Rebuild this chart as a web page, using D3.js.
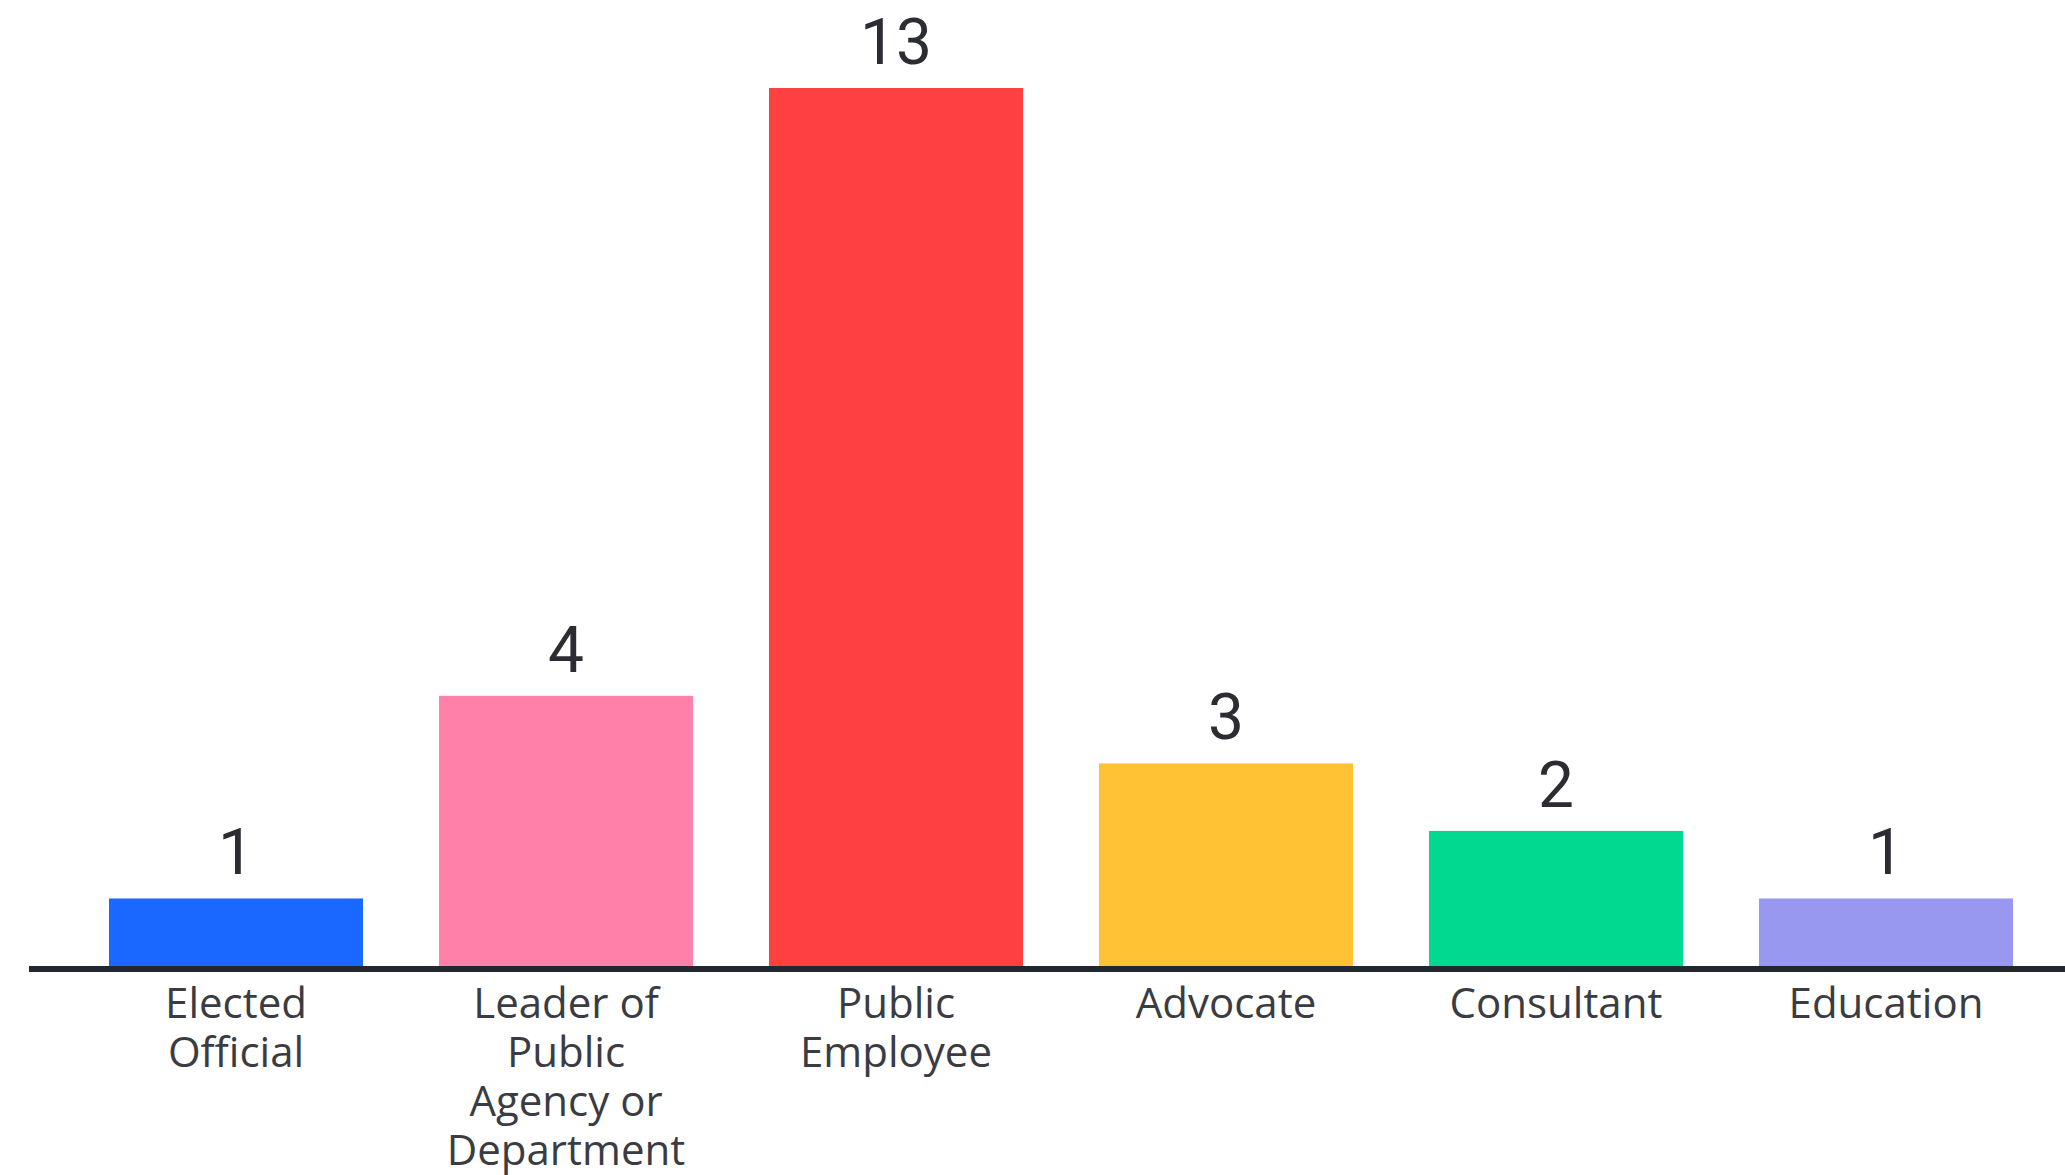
<!DOCTYPE html>
<meta charset="utf-8">
<style>
body {
  margin: 0;
  background: #fff;
  font-family: Roboto, sans-serif;
}
.value {
  font-size: 64px;
  fill: #2b2d33;
}
.axis--x text {
  font-family: "Open Sans", sans-serif;
  font-size: 42px;
  fill: #3a3c42;
}
.axis--x .tick line {
  display: none;
}
</style>
<body>
<svg width="2065" height="1175"></svg>
<script src="https://d3js.org/d3.v7.min.js"></script>
<script>
// data
var categories = ["Elected Official", "Leader of Public Agency or Department", "Public Employee", "Advocate", "Consultant", "Education"];
var labelLines = [["Elected", "Official"], ["Leader of", "Public", "Agency or", "Department"], ["Public", "Employee"], ["Advocate"], ["Consultant"], ["Education"]];
var counts = [1, 4, 13, 3, 2, 1];
var colors = ["#1a68ff", "#ff80a9", "#ff4040", "#ffc234", "#00d98f", "#9898f0"];

var svg = d3.select("svg"),
    baseline = 966;

var x = d3.scaleBand()
    .domain(categories)
    .range([71, 2051])
    .paddingInner(76 / 330)
    .paddingOuter(38 / 330);

var y = d3.scaleLinear()
    .domain([0, 13])
    .range([baseline, 88]);

var data = categories.map(function(c, i) {
  return {cat: c, value: counts[i], color: colors[i], lines: labelLines[i]};
});

// bars
svg.selectAll(".bar")
  .data(data)
  .enter().append("rect")
    .attr("class", "bar")
    .attr("x", function(d) { return x(d.cat); })
    .attr("y", function(d) { return y(d.value); })
    .attr("width", x.bandwidth())
    .attr("height", function(d) { return baseline - y(d.value); })
    .attr("fill", function(d) { return d.color; });

// value labels
svg.selectAll(".value")
  .data(data)
  .enter().append("text")
    .attr("class", "value")
    .attr("x", function(d) { return x(d.cat) + x.bandwidth() / 2; })
    .attr("y", function(d) { return y(d.value) - 24; })
    .attr("text-anchor", "middle")
    .text(function(d) { return d.value; });

// x axis
var ax = svg.append("g")
    .attr("class", "axis axis--x")
    .attr("transform", "translate(0," + baseline + ")")
    .call(d3.axisBottom(x).tickSize(0).tickFormat(""));

ax.select(".domain").remove();

svg.append("line")
    .attr("x1", 29)
    .attr("x2", 2065)
    .attr("y1", baseline + 3)
    .attr("y2", baseline + 3)
    .attr("stroke", "#23272f")
    .attr("stroke-width", 6);

ax.selectAll(".tick text")
    .each(function(c, i) {
      var t = d3.select(this).attr("y", 0).attr("dy", null);
      labelLines[i].forEach(function(line, j) {
        t.append("tspan")
          .attr("x", 0)
          .attr("y", 52 + j * 49)
          .text(line);
      });
    });
</script>
</body>
